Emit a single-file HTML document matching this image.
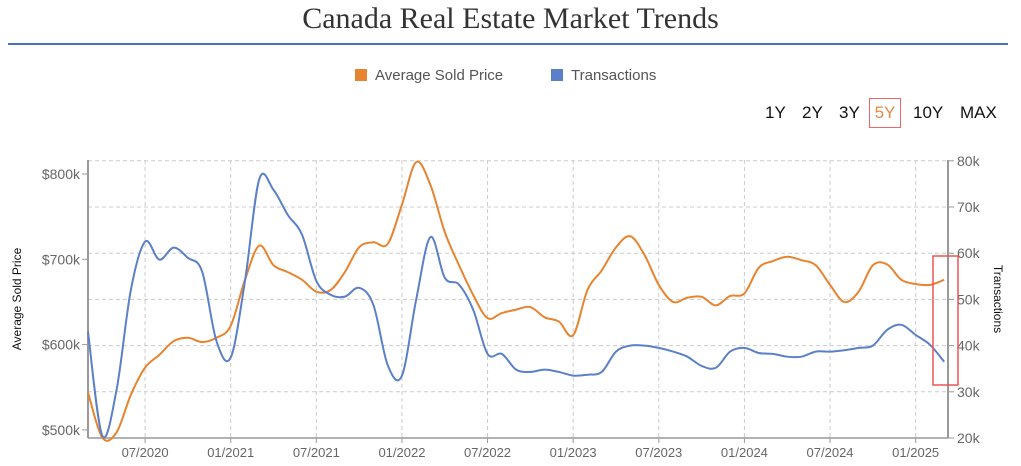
<!DOCTYPE html>
<html><head><meta charset="utf-8"><style>
body{margin:0;width:1021px;height:466px;background:#fff;font-family:"Liberation Sans",sans-serif;overflow:hidden;position:relative}
.title{position:absolute;top:0;left:0;width:1021px;text-align:center;font-family:"Liberation Serif",serif;font-size:30px;color:#333;line-height:38px}
.rule{position:absolute;left:8px;top:43px;width:1000px;height:2px;background:#4a73b5}
.btn{position:absolute;top:103px;font-size:17px;color:#111;cursor:pointer}
</style></head><body>
<div class="title">Canada Real Estate Market Trends</div>
<div class="rule"></div>
<div class="btn" style="left:765px">1Y</div>
<div class="btn" style="left:802px">2Y</div>
<div class="btn" style="left:839px">3Y</div>
<div class="btn" style="left:869px;top:98px;width:32px;height:30px;border:1.5px solid #e66;box-sizing:border-box;color:#e08a4a;text-align:center;line-height:28px">5Y</div>
<div class="btn" style="left:913px">10Y</div>
<div class="btn" style="left:960px">MAX</div>
<svg id="chart" width="1021" height="466" style="position:absolute;left:0;top:0"></svg>
<script>
const startYear=2020, startMonth=3;
const priceK=[544,491,497,541,573,588,604,608,603,608,622,676,716,693,685,676,662,664,685,714,720,718,764,814,787,732,693,658,631,637,641,644,632,627,611,664,687,714,727,705,670,650,655,656,646,657,660,690,698,703,699,693,670,650,662,693,694,676,671,670,676];
const transK=[43,20.5,30.4,52,62.5,58.6,61.2,59,56,41,37.4,54,76,73.7,68.3,64,54,51,50.6,52.5,48.8,35.8,33.5,50,63.5,54.7,53.2,47.7,38.2,38.2,34.8,34.3,34.8,34.3,33.5,33.7,34.3,38.7,40,40,39.5,38.7,37.6,35.6,35.2,38.7,39.5,38.4,38.2,37.6,37.6,38.7,38.7,39,39.5,40,43.4,44.5,42.3,40.2,36.5];
const leftTicks=[500,600,700,800];
const rightTicks=[20,30,40,50,60,70,80];
const xTicks=["07/2020","01/2021","07/2021","01/2022","07/2022","01/2023","07/2023","01/2024","07/2024","01/2025"];
const X0=88,X1=948,YT=160,YB=438,PX=14.27;
const xm=i=>X0+i*PX;
const yl=v=>174+(800-v)*0.853;
const yr=v=>438-(v-20)*4.62;
const ns="http://www.w3.org/2000/svg",svg=document.getElementById('chart');
function mk(t,a,p){const e=document.createElementNS(ns,t);for(const k in a)e.setAttribute(k,a[k]);(p||svg).appendChild(e);return e;}
// gridlines
rightTicks.forEach(v=>{const l=mk('line',{x1:X0,x2:X1,y1:yr(v),y2:yr(v),stroke:'#ccc','stroke-dasharray':'4,3'});


const t=mk('text',{x:957,y:yr(v)+5,'font-size':14,fill:'#666'});t.textContent=v+'k';


mk('line',{x1:X1,x2:X1+6,y1:yr(v),y2:yr(v),stroke:'#999'});});
xTicks.forEach(s=>{const [mm,yy]=s.split('/').map(Number);const i=(yy-startYear)*12+(mm-startMonth);const x=xm(i);
const l=mk('line',{x1:x,x2:x,y1:YT,y2:YB,stroke:'#ccc','stroke-dasharray':'4,3'});


mk('line',{x1:x,x2:x,y1:YB,y2:YB+5,stroke:'#999'});
const t=mk('text',{x:x,y:457,'font-size':13,fill:'#666','text-anchor':'middle'});t.textContent=s;

});
leftTicks.forEach(v=>{mk('line',{x1:X0-6,x2:X0,y1:yl(v),y2:yl(v),stroke:'#999'});
const t=mk('text',{x:X0-8,y:yl(v)+5,'font-size':14,fill:'#666','text-anchor':'end'});t.textContent='$'+v+'k';

});
mk('line',{x1:X0,x2:X0,y1:YT,y2:YB,stroke:'#999','stroke-width':2});
mk('line',{x1:X1,x2:X1,y1:YT,y2:YB,stroke:'#999','stroke-width':2});
mk('line',{x1:X0,x2:X1,y1:YB,y2:YB,stroke:'#999','stroke-width':1.5});
function path(vals,yf){const p=vals.map((v,i)=>[xm(i),yf(v)]);let d='M'+p[0][0]+','+p[0][1];
for(let i=0;i<p.length-1;i++){const a=p[Math.max(i-1,0)],b=p[i],c=p[i+1],e=p[Math.min(i+2,p.length-1)];
d+=` C${b[0]+(c[0]-a[0])/6},${b[1]+(c[1]-a[1])/6} ${c[0]-(e[0]-b[0])/6},${c[1]-(e[1]-b[1])/6} ${c[0]},${c[1]}`;}return d;}
const po=mk('path',{d:path(priceK,yl),fill:'none',stroke:'#e8842f','stroke-width':2});


const pb=mk('path',{d:path(transK,yr),fill:'none',stroke:'#5b80c9','stroke-width':2});


const hl=mk('rect',{x:933,y:256,width:25,height:129,fill:'none',stroke:'#e55','stroke-width':1.5});


const yt=mk('text',{transform:'translate(21,299) rotate(-90)','font-size':12,fill:'#111','text-anchor':'middle'});yt.textContent='Average Sold Price';


const rt=mk('text',{transform:'translate(994,299) rotate(90)','font-size':12,fill:'#111','text-anchor':'middle'});rt.textContent='Transactions';


// legend
const g1=mk('g',{});
mk('rect',{x:355,y:69,width:12,height:12,fill:'#e8842f'},g1);
const l1=mk('text',{x:375,y:80,'font-size':15,fill:'#555'},g1);l1.textContent='Average Sold Price';
const g2=mk('g',{});
mk('rect',{x:551,y:69,width:12,height:12,fill:'#5b80c9'},g2);
const l2=mk('text',{x:571,y:80,'font-size':15,fill:'#555'},g2);l2.textContent='Transactions';
</script>
</body></html>
